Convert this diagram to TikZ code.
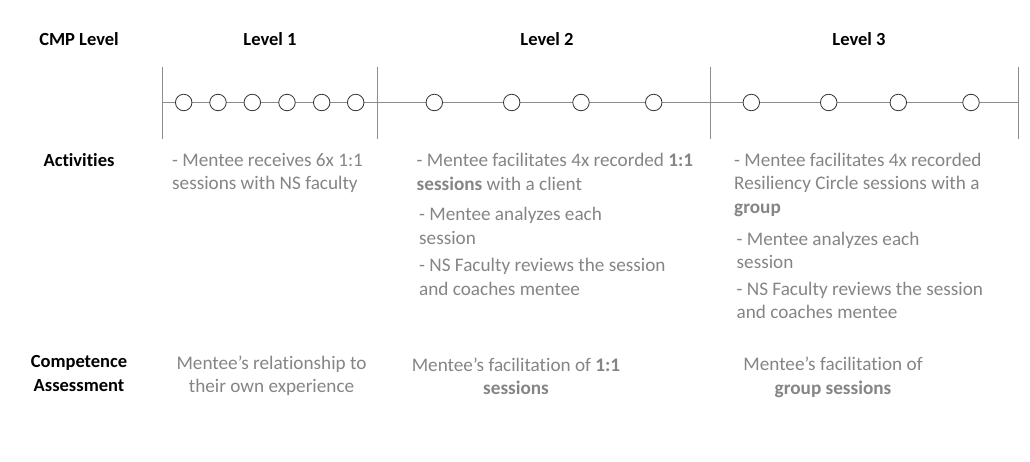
\documentclass[tikz,border=0pt]{standalone}
\usepackage{fontspec}
\setmainfont{Carlito}[Ligatures=NoCommon]
\definecolor{txtgrey}{HTML}{858585}
\definecolor{linegrey}{HTML}{8C8C8C}
\definecolor{circ}{HTML}{333333}
\begin{document}
\begin{tikzpicture}[x=1pt,y=-1pt,
  hdr/.style={font=\fontsize{18.5}{22}\selectfont\bfseries, text=black, inner sep=0pt, anchor=base},
  rowlbl/.style={font=\fontsize{18.5}{23.5}\selectfont\bfseries, text=black, inner sep=0pt, align=center, anchor=north},
  act/.style={font=\fontsize{19.2}{23.5}\selectfont, text=txtgrey, inner sep=0pt, align=left, anchor=north west},
  assess/.style={font=\fontsize{19.2}{23.5}\selectfont, text=txtgrey, inner sep=0pt, align=center, anchor=north},
  tick/.style={draw=linegrey, line width=0.8pt},
  axis/.style={draw=linegrey, line width=0.8pt},
  dot/.style={circle, draw=circ, fill=white, line width=0.8pt, minimum size=16.5pt, inner sep=0pt}
]
\useasboundingbox (0,0) rectangle (1030,462);

% headers
\node[hdr] (hcmp) at (79,46) {CMP Level};
\node[hdr] (h1) at (270,46) {Level 1};
\node[hdr] (h2) at (547,46) {Level 2};
\node[hdr] (h3) at (859,46) {Level 3};

% timeline
\coordinate (t0) at (162,67);
\coordinate (b0) at (162,139);
\coordinate (t1) at (377.5,67);
\coordinate (b1) at (377.5,139);
\coordinate (t2) at (710,67);
\coordinate (b2) at (710,139);
\coordinate (t3) at (1018,67);
\coordinate (b3) at (1018,139);
\coordinate (aL) at (162,102.5);
\coordinate (aR) at (1018,102.5);
\draw[axis] (aL) -- (aR);
\draw[tick] (t0) -- (b0);
\draw[tick] (t1) -- (b1);
\draw[tick] (t2) -- (b2);
\draw[tick] (t3) -- (b3);

\foreach \x [count=\i] in {183.7,218,252.3,287,321.7,355.7}
  \node[dot] (c1\i) at (\x,102.5) {};
\foreach \x [count=\i] in {434.3,511.7,581,653.7}
  \node[dot] (c2\i) at (\x,102.5) {};
\foreach \x [count=\i] in {751.3,828.7,898.3,971}
  \node[dot] (c3\i) at (\x,102.5) {};

% row labels
\node[rowlbl] (ract) at (79,153) {Activities};
\node[rowlbl] (rcomp) at (79,355.5) {Competence\\Assessment};

% activities
\node[act] (a1) at (172,153) {- Mentee receives 6x 1:1\\sessions with NS faculty};
\node[act] (a2a) at (416.5,153) {- Mentee facilitates 4x recorded \textbf{1:1}\\\textbf{sessions} with a client};
\node[act] (a2b) at (419,207) {- Mentee analyzes each\\session};
\node[act] (a2c) at (419,258) {- NS Faculty reviews the session\\and coaches mentee};
\node[act] (a3a) at (734,152.5) {- Mentee facilitates 4x recorded\\Resiliency Circle sessions with a\\\textbf{group}};
\node[act] (a3b) at (736.5,231.5) {- Mentee analyzes each\\session};
\node[act] (a3c) at (736.5,281.5) {- NS Faculty reviews the session\\and coaches mentee};

% assessments
\node[assess] (m1) at (271.5,355.5) {Mentee’s relationship to\\their own experience};
\node[assess] (m2) at (516,357.5) {Mentee’s facilitation of \textbf{1:1}\\\textbf{sessions}};
\node[assess] (m3) at (833,357) {Mentee’s facilitation of\\\textbf{group sessions}};
\end{tikzpicture}
\end{document}
